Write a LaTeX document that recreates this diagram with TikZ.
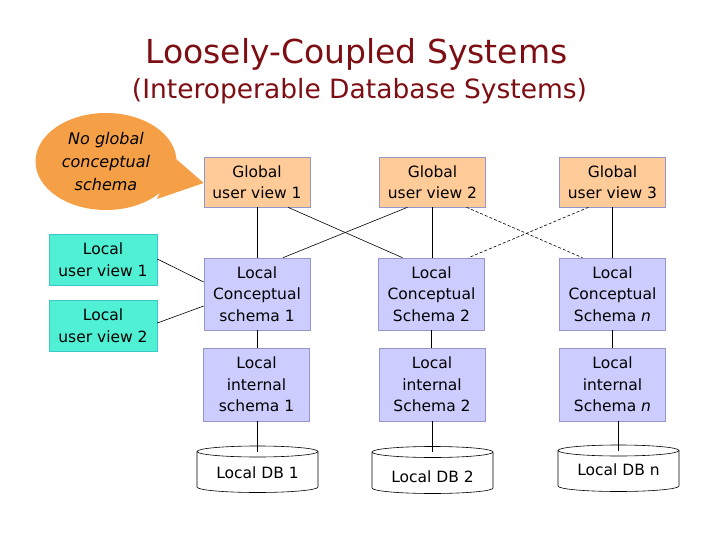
\documentclass[tikz,border=0pt]{standalone}
\usepackage{fontspec}
\setmainfont{DejaVu Sans}
\usetikzlibrary{shapes.geometric}
\begin{document}
\begin{tikzpicture}[x=1pt,y=-1pt,
  box/.style={draw=bordc, line width=0.6pt, minimum width=106pt, minimum height=50pt, inner sep=1pt, align=center, font=\fontsize{15.5}{21.5}\selectfont},
  gbox/.style={box, fill=gfill},
  lbox/.style={box, fill=lfill, minimum height=72pt},
  ubox/.style={box, fill=ufill, draw=ubord, minimum width=108pt, minimum height=51pt},
  conn/.style={line width=0.6pt},
  dconn/.style={line width=0.6pt, dash pattern=on 3pt off 2pt},
  dbtext/.style={font=\fontsize{15.5}{21}\selectfont, inner sep=1pt},
  cyl/.style={draw, line width=0.6pt, fill=white}
]
\definecolor{titlec}{RGB}{125,15,20}
\definecolor{gfill}{RGB}{255,204,153}
\definecolor{lfill}{RGB}{204,204,255}
\definecolor{bordc}{RGB}{150,150,200}
\definecolor{ufill}{RGB}{80,240,212}
\definecolor{ubord}{RGB}{60,200,200}
\definecolor{callc}{RGB}{245,160,70}
\useasboundingbox (0,0) rectangle (720,540);
\fill[white] (0,0) rectangle (720,540);

% titles
\node[anchor=base, text=titlec, font=\fontsize{33}{38}\selectfont, inner sep=0] (title) at (356.5,64) {Loosely-Coupled Systems};
\node[anchor=base, text=titlec, font=\fontsize{26.5}{30}\selectfont, inner sep=0] (subtitle) at (359.5,99) {(Interoperable Database Systems)};

% global views
\node[gbox] (g1) at (257,182) {Global\\user view 1};
\node[gbox] (g2) at (432.5,182) {Global\\user view 2};
\node[gbox] (g3) at (612.5,182) {Global\\user view 3};

% local conceptual
\node[lbox] (c1) at (257,294) {Local\\Conceptual\\schema 1};
\node[lbox] (c2) at (431.5,294) {Local\\Conceptual\\Schema 2};
\node[lbox] (c3) at (612.5,294) {Local\\Conceptual\\Schema \textit{n}};

% local internal
\node[lbox, minimum height=73pt] (i1) at (256.5,384.5) {Local\\internal\\schema 1};
\node[lbox, minimum height=73pt] (i2) at (432,384.5) {Local\\internal\\Schema 2};
\node[lbox, minimum height=73pt] (i3) at (612.5,384.5) {Local\\internal\\Schema \textit{n}};

% local user views
\node[ubox] (u1) at (103,259.5) {Local\\user view 1};
\node[ubox] (u2) at (103,325.5) {Local\\user view 2};

% cylinders
\coordinate (d1top) at (257.5,451.5);
\coordinate (d2top) at (432.5,452);
\coordinate (d3top) at (618.5,450.5);
\foreach \cx/\ty/\by in {257.5/451.5/487, 432.5/452/488, 618.5/450.5/486}{
  \draw[cyl] (\cx-60.5,\ty) -- (\cx-60.5,\by) arc[start angle=180, end angle=360, x radius=60.5pt, y radius=5.5pt] -- (\cx+60.5,\ty);
  \draw[cyl] (\cx,\ty) ellipse [x radius=60.5pt, y radius=5.5pt];
}
\node[dbtext] (db1) at (257.5,473) {Local DB 1};
\node[dbtext] (db2) at (432.5,477) {Local DB 2};
\node[dbtext] (db3) at (618.5,470) {Local DB n};

% vertical connectors
\draw[conn] (g1.south) -- (c1.north);
\draw[conn] (g2.south) -- (c2.north -| g2.south);
\draw[conn] (g3.south) -- (c3.north);
\draw[conn] (c1.south) -- (i1.north -| c1.south);
\draw[conn] (c2.south) -- (i2.north -| c2.south);
\draw[conn] (c3.south) -- (i3.north);
\draw[conn] (i1.south -| d1top) -- (d1top);
\draw[conn] (i2.south -| d2top) -- (d2top);
\draw[conn] (i3.south -| d3top) -- (d3top);

% crossing connectors
\draw[conn] ([xshift=31pt]g1.south) -- ([xshift=-29pt]c2.north);
\draw[conn] ([xshift=-25pt]g2.south) -- ([xshift=26pt]c1.north);
\draw[dconn] ([xshift=34pt]g2.south) -- ([xshift=-30pt]c3.north);
\draw[dconn] ([xshift=-24pt]g3.south) -- ([xshift=37pt]c2.north);

% local user view connectors
\draw[conn] ([yshift=0.5pt]u1.east) -- ([yshift=12pt]c1.west);
\draw[conn] ([yshift=2.5pt]u2.east) -- ([yshift=-12pt]c1.west);

% callout
\coordinate (tip) at ([yshift=-1pt]g1.west);
\fill[callc] (175,158) -- (tip) -- (157,199) -- cycle;
\node[ellipse, fill=callc, minimum width=141pt, minimum height=97pt, inner sep=0pt, align=center,
  font=\fontsize{16}{23}\selectfont\itshape] (call) at (106,161.5) {No global\\conceptual\\schema};
\end{tikzpicture}
\end{document}
